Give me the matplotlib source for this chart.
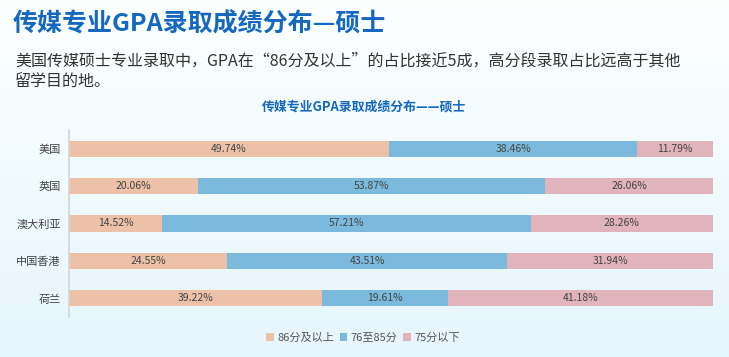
import matplotlib
matplotlib.use("Agg")
import matplotlib.pyplot as plt
import numpy as np

plt.rcParams['font.family'] = ['Noto Sans CJK SC', 'DejaVu Sans']

categories = ['美国', '英国', '澳大利亚', '中国香港', '荷兰']
high = [49.74, 20.06, 14.52, 24.55, 39.22]
mid = [38.46, 53.87, 57.21, 43.51, 19.61]
low = [11.79, 26.06, 28.26, 31.94, 41.18]
series_names = ['86分及以上', '76至85分', '75分以下']
colors = ['#ecc1a7', '#7bbadc', '#e1b3bb']

W, H = 729, 357
fig = plt.figure(figsize=(W/100, H/100), dpi=100)

# background gradient
bg = fig.add_axes([0, 0, 1, 1], zorder=-10)
grad = np.linspace(0, 1, 256).reshape(-1, 1)
top = np.array([0.99, 1.0, 1.0])
bot = np.array([0.90, 0.965, 0.99])
img = top[None, None, :] * (1 - grad[:, :, None]) + bot[None, None, :] * grad[:, :, None]
bg.imshow(img, aspect='auto', extent=[0, 1, 0, 1])
bg.axis('off')

fig.text(13/W, 1 - 24/H, '传媒专业GPA录取成绩分布—硕士', fontsize=18, fontweight='bold',
         color='#1468bf', va='center', ha='left')
fig.text(15/W, 1 - 61/H, '美国传媒硕士专业录取中，GPA在“86分及以上”的占比接近5成，高分段录取占比远高于其他',
         fontsize=11.5, color='#333333', va='center', ha='left')
fig.text(15/W, 1 - 82/H, '留学目的地。', fontsize=11.5, color='#333333', va='center', ha='left')
fig.text(364/W, 1 - 106/H, '传媒专业GPA录取成绩分布——硕士', fontsize=9.3, fontweight='bold',
         color='#1468bf', va='center', ha='center')

ax = fig.add_axes([69/W, 1 - 317/H, (713-69)/W, (317-130)/H])
ax.set_facecolor('none')
y = np.arange(len(categories))
left = np.zeros(len(categories))
bh = 0.43
for vals, name, c in zip([high, mid, low], series_names, colors):
    vals = np.array(vals)
    ax.barh(y, vals, left=left, height=bh, color=c, label=name, edgecolor='none')
    for yi, l, v in zip(y, left, vals):
        ax.text(l + v/2, yi, f'{v:.2f}%', ha='center', va='center', fontsize=7.5, color='#444444')
    left = left + vals

ax.set_xlim(0, left.max())
ax.set_ylim(len(categories) - 0.5, -0.5)
ax.set_yticks(y)
ax.set_yticklabels(categories, fontsize=8, color='#444444')
ax.tick_params(axis='y', length=0, pad=6)
ax.set_xticks([])
for s in ['top', 'right', 'bottom']:
    ax.spines[s].set_visible(False)
ax.spines['left'].set_color('#d5d5d5')
ax.spines['left'].set_linewidth(1.2)

fig.legend(loc='center', bbox_to_anchor=(363/W, 1 - 338/H), ncol=3, frameon=False,
           fontsize=8, handlelength=0.7, handleheight=0.7, handletextpad=0.3,
           columnspacing=0.5, labelcolor='#555555')

fig.savefig('out.png', dpi=100)
